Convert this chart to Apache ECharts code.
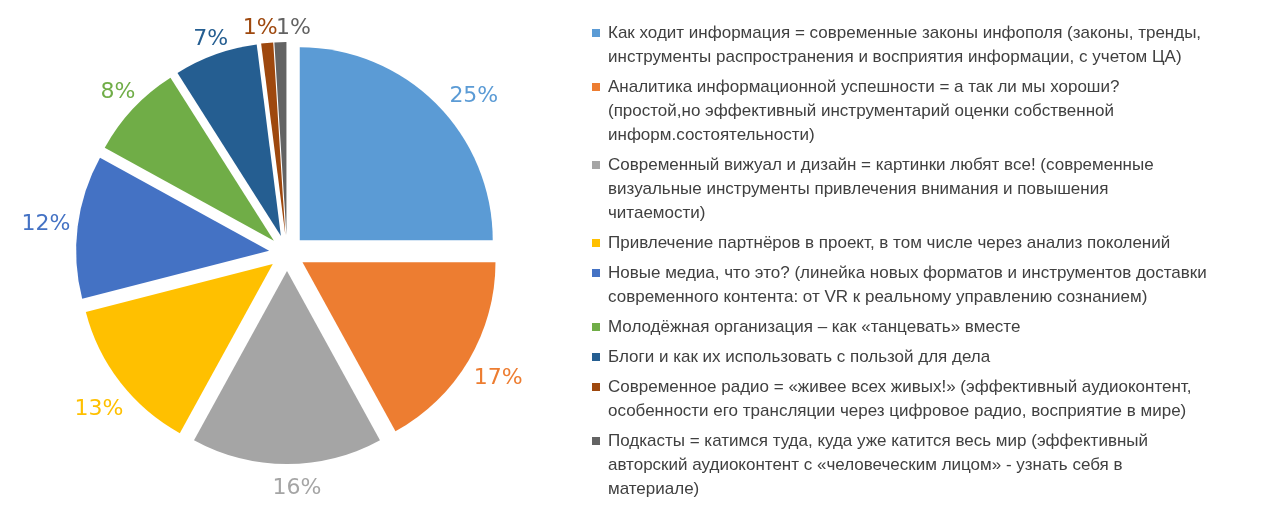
<!DOCTYPE html>
<html>
<head>
<meta charset="utf-8">
<script src="https://cdn.jsdelivr.net/npm/echarts@6/dist/echarts.min.js"></script>
<style>
  html, body { margin: 0; padding: 0; background: #fff; }
  #chart { width: 1280px; height: 510px; }
</style>
</head>
<body>
<div id="chart"></div>
<script>
var topics = [
  'Как ходит информация = современные законы инфополя (законы, тренды,\nинструменты распространения и восприятия информации, с учетом ЦА)',
  'Аналитика информационной успешности = а так ли мы хороши?\n(простой,но эффективный инструментарий оценки собственной\nинформ.состоятельности)',
  'Современный вижуал и дизайн = картинки любят все! (современные\nвизуальные инструменты привлечения внимания и повышения\nчитаемости)',
  'Привлечение партнёров в проект, в том числе через анализ поколений',
  'Новые медиа, что это? (линейка новых форматов и инструментов доставки\nсовременного контента: от VR к реальному управлению сознанием)',
  'Молодёжная организация – как «танцевать» вместе',
  'Блоги и как их использовать с пользой для дела',
  'Современное радио = «живее всех живых!» (эффективный аудиоконтент,\nособенности его трансляции через цифровое радио, восприятие в мире)',
  'Подкасты = катимся туда, куда уже катится весь мир (эффективный\nавторский аудиоконтент с «человеческим лицом» - узнать себя в\nматериале)'
];
var shares = [25, 17, 16, 13, 12, 8, 7, 1, 1];
var colors = ['#5B9BD5', '#ED7D31', '#A5A5A5', '#FFC000', '#4472C4', '#70AD47', '#255E91', '#9E480E', '#636363'];

var chart = echarts.init(document.getElementById('chart'));

var legendFont = 'Liberation Sans';
var rich = {
  t: { fontFamily: legendFont, fontSize: 17, lineHeight: 24, color: '#404040' },
  gap: { width: 8 },
  ind: { width: 16 }
};
colors.forEach(function (c, i) {
  rich['m' + i] = { width: 8, height: 8, backgroundColor: c };
});

var pieData = topics.map(function (name, i) {
  return {
    name: name,
    value: shares[i],
    selected: true,
    itemStyle: { color: colors[i] },
    label: { color: colors[i] }
  };
});

// small nudges so the percent labels sit where the original puts them
var labelNudge = [[10, 15], [-3, 2], [5, -8], [9, 7], [5, 2], [13, 6], [11, 15], [1, 17], [19, 18]];

var option = {
  backgroundColor: '#fff',
  animation: false,
  legend: {
    orient: 'vertical',
    left: 587,
    top: 21,
    height: 540,
    padding: 0,
    itemGap: 6,
    itemWidth: 0,
    itemHeight: 0,
    selectedMode: false,
    data: topics,
    textStyle: {
      fontFamily: legendFont,
      fontSize: 17,
      lineHeight: 24,
      color: '#404040',
      rich: rich
    },
    formatter: function (name) {
      var i = topics.indexOf(name);
      return name.split('\n').map(function (l, k) {
        return (k === 0 ? '{m' + i + '| }{gap| }' : '{ind| }') + '{t|' + l + '}';
      }).join('\n');
    }
  },
  series: [{
    type: 'pie',
    center: [287, 253],
    radius: 193,
    startAngle: 90,
    clockwise: true,
    selectedMode: 'multiple',
    selectedOffset: 18,
    avoidLabelOverlap: false,
    label: {
      show: true,
      position: 'outside',
      fontFamily: 'DejaVu Sans',
      fontSize: 22,
      formatter: function (p) { return p.value + '%'; }
    },
    labelLine: { show: false, length: 32, length2: 0 },
    labelLayout: function (p) {
      var n = labelNudge[p.dataIndex];
      return { align: 'center', dx: n[0], dy: n[1] };
    },
    emphasis: { disabled: true },
    data: pieData
  }]
};

chart.setOption(option);
</script>
</body>
</html>
